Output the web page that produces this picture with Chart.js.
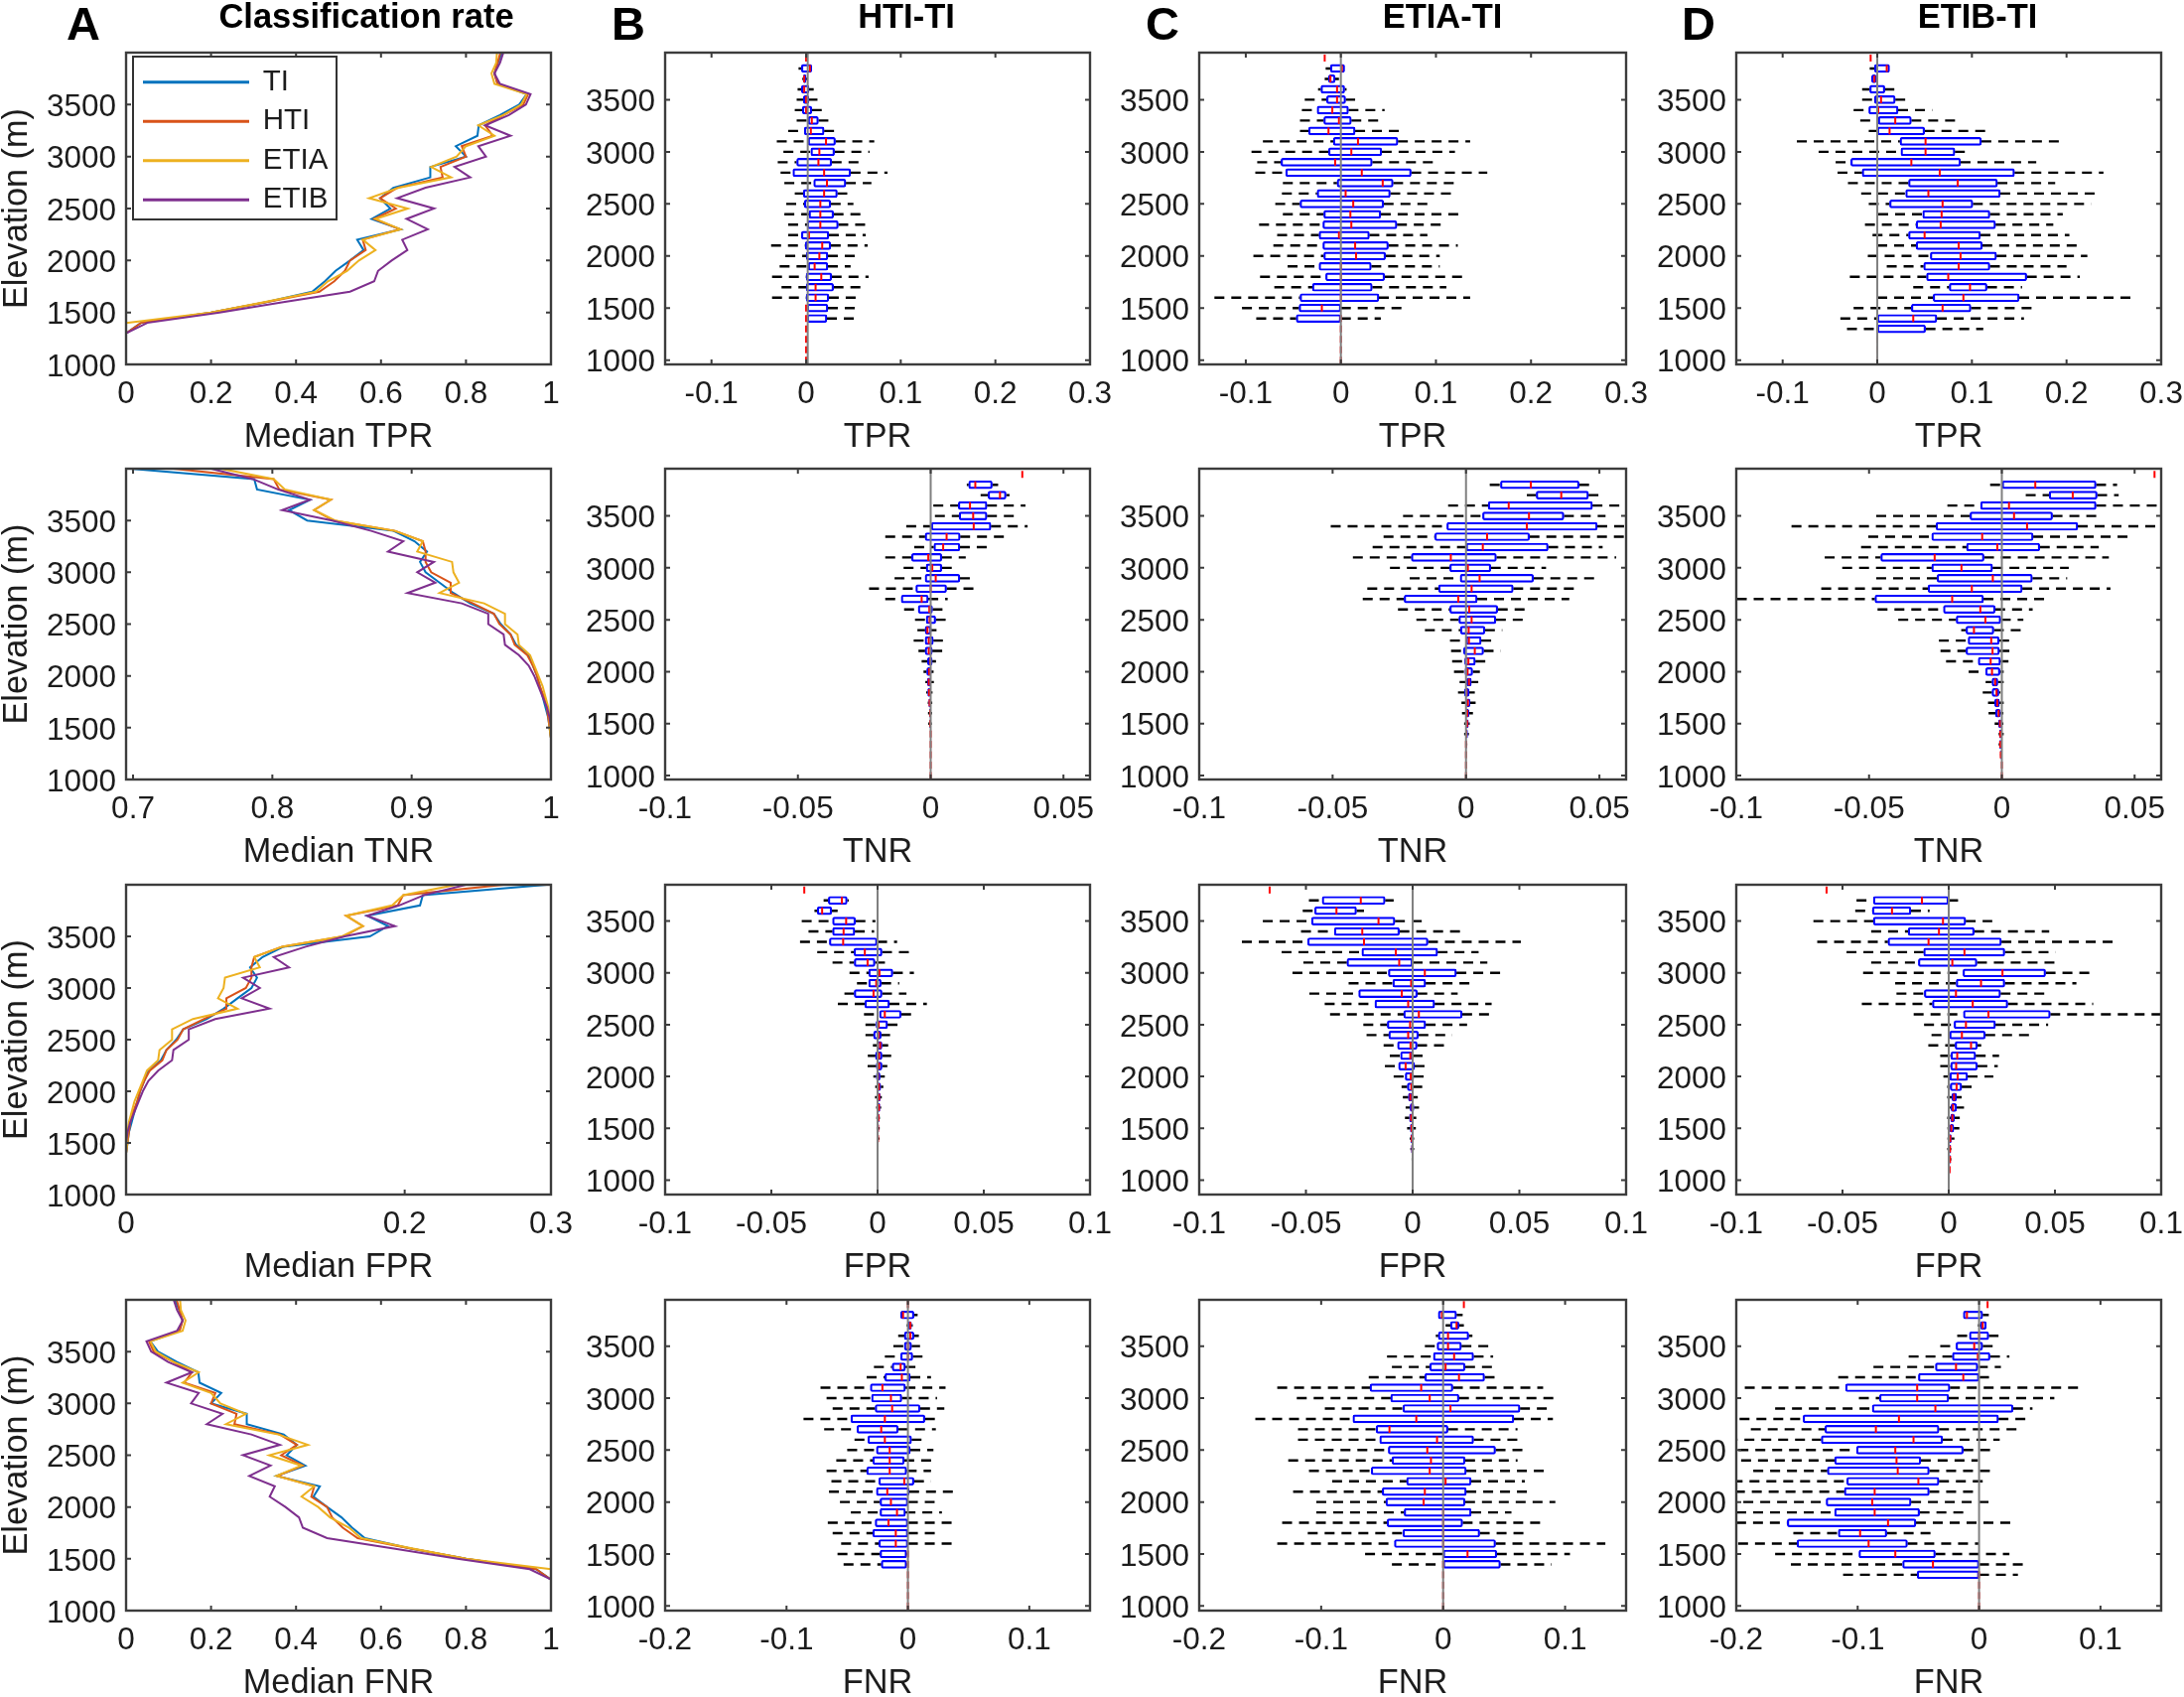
<!DOCTYPE html>
<html><head><meta charset="utf-8">
<style>
html,body{margin:0;padding:0;background:#fff;width:2200px;height:1709px;overflow:hidden}
canvas{position:absolute}
.h{position:absolute;font-family:"Liberation Sans",Arial,sans-serif;font-weight:bold;color:#000;transform:translate(-50%,-50%);white-space:nowrap}
</style>
<script src="https://cdn.jsdelivr.net/npm/chart.js@4"></script>
</head><body>
<script>
const _=null, Z=[_,_,0,_,_];
// Column A: medians from 1000 m to 4000 m in 100 m bins
const ELEV=[1000,1100,1200,1300,1400,1500,1600,1700,1800,1900,2000,2100,2200,2300,2400,2500,2600,2700,2800,2900,3000,3100,3200,3300,3400,3500,3600,3700,3800,3900,4000];
const SERIES_NAMES=['TI','HTI','ETIA','ETIB'];
const SERIES_COLORS=['#0072BD','#D95319','#EDB120','#7E2F8E'];
const TPR_TI=[0,0,0,0,.035,.20,.33,.438,.468,.493,.527,.559,.544,.646,.578,.622,.598,.629,.716,.716,.80,.776,.827,.83,.88,.925,.943,.875,.867,.875,.885];
const TPR_HTI_M=[0,0,0,0,.035,.20,.33,.455,.49,.515,.527,.564,.557,.644,.584,.635,.598,.638,.745,.74,.80,.79,.863,.845,.888,.935,.946,.874,.867,.874,.881];
const TPR_ETIA_M=[0,0,0,0,0,.20,.325,.447,.475,.52,.548,.587,.557,.646,.587,.663,.572,.642,.765,.718,.778,.80,.867,.829,.888,.93,.943,.867,.86,.871,.873];
const TPR_ETIB_M=[0,0,0,0,.05,.22,.37,.527,.584,.593,.625,.662,.65,.71,.66,.725,.638,.705,.81,.773,.847,.829,.905,.845,.901,.941,.952,.88,.867,.88,.888];
const TNR_TI=[1,1,1,1,1,.999,.998,.996,.994,.992,.99,.987,.984,.975,.971,.964,.959,.942,.93,.92,.91,.906,.911,.902,.887,.825,.812,.827,.789,.787,.698];
const TNR_HTI_M=[1,1,1,1,1,.999,.998,.997,.995,.992,.99,.987,.983,.974,.971,.963,.959,.944,.928,.928,.914,.91,.91,.908,.888,.844,.83,.842,.805,.801,.729];
const TNR_ETIA_M=[1,1,1,1,1,.999,.999,.998,.996,.994,.991,.988,.985,.977,.976,.967,.967,.952,.92,.934,.93,.929,.904,.908,.888,.845,.83,.842,.809,.801,.763];
const TNR_ETIB_M=[1,1,1,1,1,1,.999,.997,.994,.991,.988,.984,.977,.967,.966,.955,.955,.936,.897,.917,.904,.916,.883,.894,.871,.843,.807,.827,.804,.786,.756];
const FPR_TI=[0,0,0,0,0,.001,.002,.004,.006,.008,.01,.013,.016,.025,.029,.036,.041,.058,.07,.08,.09,.094,.089,.098,.113,.175,.188,.173,.211,.213,.302];
const FPR_HTI_M=[0,0,0,0,0,.001,.002,.003,.005,.008,.01,.013,.017,.026,.029,.037,.041,.056,.072,.072,.086,.09,.09,.092,.112,.156,.17,.158,.195,.199,.271];
const FPR_ETIA_M=[0,0,0,0,0,.001,.001,.002,.004,.006,.009,.012,.015,.023,.024,.033,.033,.048,.08,.066,.07,.071,.096,.092,.112,.155,.17,.158,.191,.199,.237];
const FPR_ETIB_M=[0,0,0,0,0,0,.001,.003,.006,.009,.012,.016,.023,.033,.034,.045,.045,.064,.103,.083,.096,.084,.117,.106,.129,.157,.193,.173,.196,.214,.244];
const FNR_TI=[1,1,1,1,.965,.80,.67,.562,.532,.507,.473,.441,.456,.354,.422,.378,.402,.371,.284,.284,.20,.224,.173,.17,.12,.075,.057,.125,.133,.125,.115];
const FNR_HTI_M=[1,1,1,1,.965,.80,.67,.545,.51,.485,.473,.436,.443,.356,.416,.365,.402,.362,.255,.26,.20,.21,.137,.155,.112,.065,.054,.126,.133,.126,.119];
const FNR_ETIA_M=[1,1,1,1,1,.80,.675,.553,.525,.48,.452,.413,.443,.354,.413,.337,.428,.358,.235,.282,.222,.20,.133,.171,.112,.07,.057,.133,.14,.129,.127];
const FNR_ETIB_M=[1,1,1,1,.95,.78,.63,.473,.416,.407,.375,.338,.35,.29,.34,.275,.362,.295,.19,.227,.153,.171,.095,.155,.099,.059,.048,.12,.133,.12,.112];

// Box rows, top bin first: [lower whisker, q1, median, q3, upper whisker]
const TPR_HTI=[Z,[-.008,-.005,.004,.006,.006],[-.004,-.003,-.002,0,.001],[-.009,-.005,-.002,.003,.008],[-.01,-.003,0,.003,.012],[-.012,-.004,0,.006,.019],[-.01,.002,.006,.013,.028],[-.019,-.002,.005,.019,.034],[-.031,.002,.021,.031,.072],[-.024,.005,.014,.03,.067],[-.03,-.01,.013,.027,.062],[-.027,-.014,.019,.047,.086],[-.023,.008,.022,.042,.069],[-.012,-.003,.019,.033,.044],[-.021,-.002,.015,.026,.05],[-.023,.003,.015,.029,.059],[-.019,.001,.015,.034,.067],[-.019,-.005,.003,.024,.063],[-.037,-.001,.017,.026,.065],[-.022,0,.014,.023,.056],[-.028,.002,.009,.023,.047],[-.036,0,.016,.027,.066],[-.026,0,.01,.029,.062],[-.036,0,.01,.024,.055],[0,.001,0,.023,.058],[0,.001,0,.022,.053],Z,Z,Z,Z];
const TPR_ETIA=[[_,_,-.017,_,_],[-.016,-.011,.001,.004,.004],[-.017,-.013,-.011,-.006,-.002],[-.024,-.021,-.004,.004,.006],[-.038,-.015,-.004,.005,.015],[-.041,-.025,-.009,.008,.046],[-.043,-.018,-.002,.011,.042],[-.043,-.034,-.013,.015,.061],[-.082,-.008,.018,.06,.136],[-.094,-.013,.011,.043,.12],[-.088,-.063,-.006,.033,.097],[-.09,-.058,.022,.074,.154],[-.061,-.004,.044,.055,.119],[-.062,-.025,.005,.052,.119],[-.069,-.043,.013,.045,.098],[-.061,-.018,.01,.042,.127],[-.086,-.019,.011,.059,.11],[-.067,-.023,-.002,.03,.091],[-.071,-.019,.015,.05,.123],[-.092,-.018,.016,.047,.104],[-.056,-.023,0,.032,.104],[-.085,-.016,0,.046,.132],[-.07,-.03,0,.033,.111],[-.133,-.043,0,.04,.136],[-.104,-.044,-.02,0,.064],[-.089,-.047,0,0,.042],Z,Z,Z,Z];
const TPR_ETIB=[[_,_,-.007,_,_],[-.008,-.003,.01,.013,.013],[-.006,-.006,-.003,-.001,.001],[-.016,-.008,0,.008,.018],[-.016,-.003,.004,.019,.032],[-.025,-.009,.001,.022,.058],[-.018,.001,.019,.036,.087],[-.009,0,.013,.05,.116],[-.085,.024,.051,.11,.193],[-.062,.025,.051,.082,.099],[-.044,-.028,.036,.088,.168],[-.042,-.016,.066,.145,.239],[-.031,.033,.085,.127,.188],[-.017,.03,.054,.13,.235],[-.009,.013,.069,.101,.226],[.001,.048,.068,.119,.196],[-.013,.041,.067,.125,.186],[-.005,.033,.05,.109,.203],[0,.041,.086,.111,.215],[-.01,.056,.088,.126,.222],[.01,.049,.086,.119,.2],[-.029,.052,.075,.158,.214],[.038,.076,.098,.116,.153],[0,.059,.091,.15,.268],[-.025,.036,.069,.099,.168],[-.039,0,.038,.063,.155],[-.032,0,0,.051,.112],Z,Z,Z];

const TNR_HTI=[[_,_,.0345,_,_],[.0136,.0143,.0168,.0232,.0254],[.0188,.0216,.0261,.0284,.0297],[.001,.0104,.0148,.0212,.0357],[.0016,.0107,.016,.0212,.0325],[-.0092,.0002,.0162,.0227,.0365],[-.0171,-.0021,.006,.0111,.0284],[-.0062,.0012,.0047,.011,.0212],[-.0171,-.0072,-.0009,.0042,.0132],[-.0102,-.0017,.0006,.0042,.0097],[-.0136,-.0021,.0019,.011,.0156],[-.0232,-.0056,0,.006,.0187],[-.0171,-.0111,-.0034,-.0009,.0064],[-.01,-.0047,-.0005,.0007,.0057],[-.0059,-.0017,-.0004,.0019,.0057],[-.005,-.0021,-.0012,.0002,.0022],[-.0064,-.0021,-.0007,.001,.0046],[-.0046,-.0021,-.0007,.0006,.0047],[-.0034,-.0012,-.0002,.0006,.002],[-.0027,-.0015,-.0006,.0002,.0011],[-.002,-.0012,-.0007,-.0001,.0012],[-.0017,-.0011,-.0006,-.0001,.0007],[-.0011,-.0007,-.0004,0,.0006],[-.001,-.0005,-.0002,0,.0005],[-.0009,-.0004,-.0002,0,.0004],Z,Z,Z,Z,Z];
const TNR_ETIA=[[_,_,.067,_,_],[.0089,.0129,.0243,.0424,.0486],[.0228,.0263,.0357,.0459,.0515],[-.0067,.0083,.016,.0474,.0702],[-.0236,.0062,.0236,.0367,.0523],[-.0507,-.0072,.0228,.0492,.08],[-.0309,-.0117,.0079,.0238,.0614],[-.035,0,.0063,.0308,.0512],[-.0424,-.0205,-.0057,.0114,.0563],[-.0285,-.0061,.0007,.0093,.03],[-.0211,-.0022,.0051,.0253,.0484],[-.037,-.0103,.0021,.0177,.0412],[-.0387,-.0232,-.0029,.0042,.0387],[-.0255,-.0061,.0012,.0119,.0231],[-.0186,-.0027,.0021,.0112,.0216],[-.0154,-.0021,.001,.0071,.0136],[-.006,0,.0011,.0057,.0107],[-.0056,-.0009,.0033,.0066,.013],[-.0052,-.0005,.0009,.0035,.0089],[-.0045,-.0004,.0006,.0025,.0052],[-.0024,.0002,.0011,.002,.0046],[-.003,-.0006,.0002,.0012,.0033],[-.0017,.0002,.0007,.0015,.0036],[-.0015,-.0001,.0005,.0011,.0026],[-.0007,-.0001,.0004,.0009,.0014],[-.0007,-.0002,.0001,.0006,.0011],[-.0002,-.0001,0,.0002,.0005],Z,Z,Z];
const TNR_ETIB=[[_,_,.0575,_,_],[-.0044,.0001,.0126,.0355,.0434],[.009,.0178,.0267,.0359,.044],[-.0205,-.008,.0027,.0355,.0637],[-.0473,-.012,.0046,.0191,.0365],[-.0792,-.0248,.0095,.0286,.0619],[-.0503,-.0264,-.0074,.0118,.0481],[-.053,-.0133,-.0017,.0143,.0365],[-.0667,-.0456,-.0253,-.0067,.0403],[-.0601,-.0264,-.0152,-.0035,.0252],[-.0473,-.0244,-.0034,.0115,.0246],[-.068,-.0278,-.0113,.0077,.0409],[-.0998,-.0478,-.0187,-.0069,.0165],[-.0468,-.022,-.0081,-.0025,.0116],[-.039,-.0172,-.0062,-.0004,.0081],[-.0153,-.0135,-.0105,-.003,.0096],[-.0237,-.0127,-.004,-.001,.004],[-.0231,-.0135,-.0035,-.0009,.004],[-.021,-.0089,-.0042,-.0005,.0025],[-.0125,-.0061,-.0037,-.0007,.0007],[-.0061,-.0037,-.0025,-.0015,.0007],[-.0072,-.0037,-.002,-.0011,-.0005],[-.0052,-.0027,-.0017,-.0009,.0007],[-.005,-.0024,-.0012,-.0005,.0006],[-.0027,-.0012,-.0007,-.0002,.0006],[-.0012,-.0009,-.0006,-.0002,.0007],[-.0012,-.0009,-.0006,-.0002,0],[-.0006,-.0005,-.0004,-.0001,0],Z,Z];

const FPR_HTI=[[_,_,-.0345,_,_],[-.0254,-.0232,-.0168,-.0143,-.0136],[-.0297,-.0284,-.0261,-.0216,-.0188],[-.0357,-.0212,-.0148,-.0104,-.001],[-.0325,-.0212,-.016,-.0107,-.0016],[-.0365,-.0227,-.0162,-.0002,.0092],[-.0284,-.0111,-.006,.0021,.0171],[-.0212,-.011,-.0047,-.0012,.0062],[-.0132,-.0042,.0009,.0072,.0171],[-.0097,-.0042,-.0006,.0017,.0102],[-.0156,-.011,-.0019,.0021,.0136],[-.0187,-.006,0,.0056,.0232],[-.0064,.0009,.0034,.0111,.0171],[-.0057,-.0007,.0005,.0047,.01],[-.0057,-.0019,.0004,.0017,.0059],[-.0022,-.0002,.0012,.0021,.005],[-.0046,-.001,.0007,.0021,.0064],[-.0047,-.0006,.0007,.0021,.0046],[-.002,-.0006,.0002,.0012,.0034],[-.0011,-.0002,.0006,.0015,.0027],[-.0012,.0001,.0007,.0012,.002],[-.0007,.0001,.0006,.0011,.0017],[-.0006,0,.0004,.0007,.0011],[-.0005,0,.0002,.0005,.001],[-.0004,0,.0002,.0004,.0009],Z,Z,Z,Z,Z];
const FPR_ETIA=[[_,_,-.067,_,_],[-.0486,-.0424,-.0243,-.0129,-.0089],[-.0515,-.0459,-.0357,-.0263,-.0228],[-.0702,-.0474,-.016,-.0083,.0067],[-.0523,-.0367,-.0236,-.0062,.0236],[-.08,-.0492,-.0228,.0072,.0507],[-.0614,-.0238,-.0079,.0117,.0309],[-.0512,-.0308,-.0063,0,.035],[-.0563,-.0114,.0057,.0205,.0424],[-.03,-.0093,-.0007,.0061,.0285],[-.0484,-.0253,-.0051,.0022,.0211],[-.0412,-.0177,-.0021,.0103,.037],[-.0387,-.0042,.0029,.0232,.0387],[-.0231,-.0119,-.0012,.0061,.0255],[-.0216,-.0112,-.0021,.0027,.0186],[-.0136,-.0071,-.001,.0021,.0154],[-.0107,-.0057,-.0011,0,.006],[-.013,-.0066,-.0033,.0009,.0056],[-.0089,-.0035,-.0009,.0005,.0052],[-.0052,-.0025,-.0006,.0004,.0045],[-.0046,-.002,-.0011,-.0002,.0024],[-.0033,-.0012,-.0002,.0006,.003],[-.0036,-.0015,-.0007,-.0002,.0017],[-.0026,-.0011,-.0005,.0001,.0015],[-.0014,-.0009,-.0004,.0001,.0007],[-.0011,-.0006,-.0001,.0002,.0007],[-.0005,-.0002,0,.0001,.0002],Z,Z,Z];
const FPR_ETIB=[[_,_,-.0575,_,_],[-.0434,-.0355,-.0126,-.0001,.0044],[-.044,-.0359,-.0267,-.0178,-.009],[-.0637,-.0355,-.0027,.008,.0205],[-.0365,-.0191,-.0046,.012,.0473],[-.0619,-.0286,-.0095,.0248,.0792],[-.0481,-.0118,.0074,.0264,.0503],[-.0365,-.0143,.0017,.0133,.053],[-.0403,.0067,.0253,.0456,.0667],[-.0252,.0035,.0152,.0264,.0601],[-.0246,-.0115,.0034,.0244,.0473],[-.0409,-.0077,.0113,.0278,.068],[-.0165,.0069,.0187,.0478,.0998],[-.0116,.0025,.0081,.022,.0468],[-.0081,.0004,.0062,.0172,.039],[-.0096,.003,.0105,.0135,.0153],[-.004,.001,.004,.0127,.0237],[-.004,.0009,.0035,.0135,.0231],[-.0025,.0005,.0042,.0089,.021],[-.0007,.0007,.0037,.0061,.0125],[-.0007,.0015,.0025,.0037,.0061],[.0005,.0011,.002,.0037,.0072],[-.0007,.0009,.0017,.0027,.0052],[-.0006,.0005,.0012,.0024,.005],[-.0006,.0002,.0007,.0012,.0027],[-.0007,.0002,.0006,.0009,.0012],[0,.0002,.0006,.0009,.0012],[0,.0001,.0004,.0005,.0006],Z,Z];

const FNR_HTI=[Z,[-.006,-.006,-.004,.005,.008],[-.001,0,.002,.003,.004],[-.008,-.003,.002,.005,.009],[-.012,-.003,0,.003,.01],[-.019,-.006,0,.004,.012],[-.028,-.013,-.006,-.002,.01],[-.034,-.019,-.005,.002,.019],[-.072,-.031,-.021,-.002,.031],[-.067,-.03,-.014,-.005,.024],[-.062,-.027,-.013,.01,.03],[-.086,-.047,-.019,.014,.027],[-.069,-.042,-.022,-.008,.023],[-.044,-.033,-.019,.003,.012],[-.05,-.026,-.015,.002,.021],[-.059,-.029,-.015,-.003,.023],[-.067,-.034,-.015,-.001,.019],[-.063,-.024,-.003,.005,.019],[-.065,-.026,-.017,.001,.037],[-.056,-.023,-.014,0,.022],[-.047,-.023,-.009,-.002,.028],[-.066,-.027,-.016,0,.036],[-.062,-.029,-.01,0,.026],[-.055,-.024,-.01,0,.036],[-.058,-.023,0,-.001,0],[-.053,-.022,0,-.001,0],Z,Z,Z,Z];
const FNR_ETIA=[[_,_,.017,_,_],[-.004,-.004,-.001,.011,.016],[.002,.006,.011,.013,.017],[-.006,-.004,.004,.021,.024],[-.015,-.005,.004,.015,.038],[-.046,-.008,.009,.025,.041],[-.042,-.011,.002,.018,.043],[-.061,-.015,.013,.034,.043],[-.136,-.06,-.018,.008,.082],[-.12,-.043,-.011,.013,.094],[-.097,-.033,.006,.063,.088],[-.154,-.074,-.022,.058,.09],[-.119,-.055,-.044,.004,.061],[-.119,-.052,-.005,.025,.062],[-.098,-.045,-.013,.043,.069],[-.127,-.042,-.01,.018,.061],[-.11,-.059,-.011,.019,.086],[-.091,-.03,.002,.023,.067],[-.123,-.05,-.015,.019,.071],[-.104,-.047,-.016,.018,.092],[-.104,-.032,0,.023,.056],[-.132,-.046,0,.016,.085],[-.111,-.033,0,.03,.07],[-.136,-.04,0,.043,.133],[-.064,0,.02,.044,.104],[-.042,0,0,.047,.089],Z,Z,Z,Z];
const FNR_ETIB=[[_,_,.007,_,_],[-.013,-.013,-.01,.003,.008],[-.001,.001,.003,.006,.006],[-.018,-.008,0,.008,.016],[-.032,-.019,-.004,.003,.016],[-.058,-.022,-.001,.009,.025],[-.087,-.036,-.019,-.001,.018],[-.116,-.05,-.013,0,.009],[-.193,-.11,-.051,-.024,.085],[-.099,-.082,-.051,-.025,.062],[-.168,-.088,-.036,.028,.044],[-.239,-.145,-.066,.016,.042],[-.188,-.127,-.085,-.033,.031],[-.235,-.13,-.054,-.03,.017],[-.226,-.101,-.069,-.013,.009],[-.196,-.119,-.068,-.048,-.001],[-.186,-.125,-.067,-.041,.013],[-.203,-.109,-.05,-.033,.005],[-.215,-.111,-.086,-.041,0],[-.222,-.126,-.088,-.056,.01],[-.2,-.119,-.086,-.049,-.01],[-.214,-.158,-.075,-.052,.029],[-.153,-.116,-.098,-.076,-.038],[-.268,-.15,-.091,-.059,0],[-.168,-.099,-.069,-.036,.025],[-.155,-.063,-.038,0,.039],[-.112,-.051,0,0,.032],Z,Z,Z];

// Axis tick lists and limits
const ELEV_TICKS=[1000,1500,2000,2500,3000,3500];
const XT_TPR_M=[0,.2,.4,.6,.8,1], XT_TNR_M=[.7,.8,.9,1], XT_FPR_M=[0,.2,.305];
const XT_TPR=[-.1,0,.1,.2,.3], XT_TNR=[-.1,-.05,0,.05], XT_FPR=[-.1,-.05,0,.05,.1], XT_FNR=[-.2,-.1,0,.1];
const HEADINGS=[['Classification rate',369],['HTI-TI',913],['ETIA-TI',1453],['ETIB-TI',1992]];
const LETTERS=[['A',84],['B',633],['C',1171],['D',1711]];

const FONT='"Liberation Sans",Arial,sans-serif', INK='#1c1c1c';
const COL_L=[127,670,1208,1749], COL_R=[555,1098,1638,2177];
const ROW_T=[53,472,891,1309], ROW_B=[367,785,1203,1622];
const TOP_PAD=36, RIGHT_PAD=40, BELOW=91;

const frameTicks={id:'frameTicks',
  afterLayout(c){ if(c.options.plugins.legend.display){
      c.legend.left=c.chartArea.left+8; c.legend.top=c.chartArea.top+5; } },
  afterDatasetsDraw(c){
    const {ctx,chartArea:a,scales:{x,y}}=c; ctx.save();
    ctx.strokeStyle='#3c3c3c'; ctx.lineWidth=2;
    ctx.beginPath();
    x.ticks.forEach(t=>{const p=x.getPixelForValue(t.value);ctx.moveTo(p,a.top);ctx.lineTo(p,a.top+5);ctx.moveTo(p,a.bottom);ctx.lineTo(p,a.bottom-5);});
    y.ticks.forEach(t=>{const p=y.getPixelForValue(t.value);ctx.moveTo(a.left,p);ctx.lineTo(a.left+5,p);ctx.moveTo(a.right,p);ctx.lineTo(a.right-5,p);});
    ctx.stroke();
    ctx.lineWidth=2.4; ctx.strokeRect(a.left,a.top,a.right-a.left,a.bottom-a.top);
    if(c.options.plugins.legend.display){ctx.lineWidth=2;ctx.strokeStyle='#333';ctx.strokeRect(a.left+7,a.top+4,205,164);}
    ctx.restore();
  }};

function scales(col,row,xmin,xmax,xticks,xtitle,ymin,ymax){
  const W=col===0?127:85;
  return {
    x:{type:'linear',offset:false,min:xmin,max:xmax,grid:{display:false,drawTicks:false},border:{display:false},
       afterBuildTicks(s){s.ticks=xticks.map(v=>({value:v}));},
       afterFit(s){s.height=BELOW;},
       ticks:{autoSkip:false,maxRotation:0,padding:11,color:INK,font:{family:FONT,size:31.5},callback:v=>v===.305?'0.3':String(v)},
       title:{display:true,text:xtitle,color:INK,font:{family:FONT,size:34.3,lineHeight:1},padding:{top:0,bottom:0}}},
    y:{type:'linear',offset:false,min:ymin,max:ymax,grid:{display:false,drawTicks:false},border:{display:false},
       afterBuildTicks(s){s.ticks=ELEV_TICKS.map(v=>({value:v}));},
       afterFit(s){s.width=W;},
       ticks:{autoSkip:false,padding:10,labelOffset:3,color:INK,font:{family:FONT,size:31.5},callback:v=>String(v)},
       title:{display:col===0,text:'Elevation (m)',color:INK,font:{family:FONT,size:34.3,lineHeight:1},padding:{top:0,bottom:0}}}
  };
}
function mount(col,row,datasets,sc,legend){
  const W=col===0?127:85, fw=COL_R[col]-COL_L[col], fh=ROW_B[row]-ROW_T[row];
  const cv=document.createElement('canvas');
  cv.width=W+fw+RIGHT_PAD; cv.height=TOP_PAD+fh+BELOW;
  cv.style.left=(COL_L[col]-W)+'px'; cv.style.top=(ROW_T[row]-TOP_PAD)+'px';
  cv.style.width=cv.width+'px'; cv.style.height=cv.height+'px';
  document.body.appendChild(cv);
  new Chart(cv,{type:'scatter',data:{datasets},plugins:[frameTicks],options:{
    responsive:false,animation:false,events:[],devicePixelRatio:1,
    layout:{padding:{top:TOP_PAD,right:RIGHT_PAD,left:0,bottom:0}},
    scales:sc,
    plugins:{title:{display:false},tooltip:{enabled:false},
      legend:legend?{display:true,position:'chartArea',align:'start',
        labels:{boxWidth:105,boxHeight:1,padding:10,color:INK,font:{family:FONT,size:29.5},sort:(a,b)=>a.datasetIndex-b.datasetIndex}}:{display:false}}
  }});
}
function linePanel(row,vals,xmin,xmax,xticks,xtitle,legend){
  const ds=vals.map((v,i)=>({label:SERIES_NAMES[i],order:3-i,showLine:true,borderColor:SERIES_COLORS[i],backgroundColor:SERIES_COLORS[i],
      borderWidth:2,pointRadius:0,tension:0,data:v.map((u,k)=>({x:u,y:ELEV[k]}))}));
  mount(0,row,ds,scales(0,row,xmin,xmax,xticks,xtitle,1000,4000),legend);
}
function boxPanel(col,row,rows,topElev,xmin,xmax,xticks,xtitle,ymin,ymax,zero){
  const at=rows.map((r,i)=>({r,e:topElev-i*100}));
  const whisk=[]; at.forEach(({r,e})=>{ if(r[0]!==null){
      whisk.push({x:r[0],y:e},{x:r[1],y:e},{x:null,y:null},{x:r[3],y:e},{x:r[4],y:e},{x:null,y:null}); }});
  const ds=[
    {label:'whisker',showLine:true,order:4,data:whisk,borderColor:'#000',borderWidth:2.4,borderDash:[10,7],pointRadius:0,spanGaps:false},
    {type:'bar',label:'box',indexAxis:'y',order:3,grouped:false,barThickness:8,borderWidth:2.2,borderRadius:2,borderSkipped:false,
     borderColor:'#0000FF',backgroundColor:'#ffffff',
     data:at.filter(a=>a.r[1]!==null).map(({r,e})=>({x:[r[1],r[3]],y:e}))},
    {label:'median',showLine:false,order:2,data:at.map(({r,e})=>({x:r[2],y:e})),
     pointStyle:'line',pointRotation:90,pointRadius:3.5,pointBorderColor:'#FF0000',pointBorderWidth:2},
    {label:'zero',showLine:true,order:1,data:[{x:zero,y:ymin},{x:zero,y:ymax}],borderColor:'#808080',borderWidth:2,pointRadius:0}
  ];
  mount(col,row,ds,scales(col,row,xmin,xmax,xticks,xtitle,ymin,ymax),false);
}
linePanel(0,[TPR_TI,TPR_HTI_M,TPR_ETIA_M,TPR_ETIB_M],0,1,XT_TPR_M,'Median TPR',true);
linePanel(1,[TNR_TI,TNR_HTI_M,TNR_ETIA_M,TNR_ETIB_M],.695,1,XT_TNR_M,'Median TNR',false);
linePanel(2,[FPR_TI,FPR_HTI_M,FPR_ETIA_M,FPR_ETIB_M],0,.305,XT_FPR_M,'Median FPR',false);
linePanel(3,[FNR_TI,FNR_HTI_M,FNR_ETIA_M,FNR_ETIB_M],0,1,XT_TPR_M,'Median FNR',false);
[TPR_HTI,TPR_ETIA,TPR_ETIB].forEach((r,i)=>boxPanel(i+1,0,r,3900,-.149,.3,XT_TPR,'TPR',959,3952,i===0?.0017:0));
[TNR_HTI,TNR_ETIA,TNR_ETIB].forEach((r,i)=>boxPanel(i+1,1,r,3900,-.1,.06,XT_TNR,'TNR',962,3955,0));
[FPR_HTI,FPR_ETIA,FPR_ETIB].forEach((r,i)=>boxPanel(i+1,2,r,3800,-.1,.1,XT_FPR,'FPR',860,3851,0));
[FNR_HTI,FNR_ETIA,FNR_ETIB].forEach((r,i)=>boxPanel(i+1,3,r,3900,-.2,.15,XT_FNR,'FNR',955,3946,0));
function label(t,x,y,size){const d=document.createElement('div');d.className='h';d.textContent=t;d.style.left=x+'px';d.style.top=y+'px';d.style.fontSize=size+'px';document.body.appendChild(d);}
HEADINGS.forEach(([t,x])=>label(t,x,16,34.5));
LETTERS.forEach(([t,x])=>label(t,x,23,47));
</script>
</body></html>
